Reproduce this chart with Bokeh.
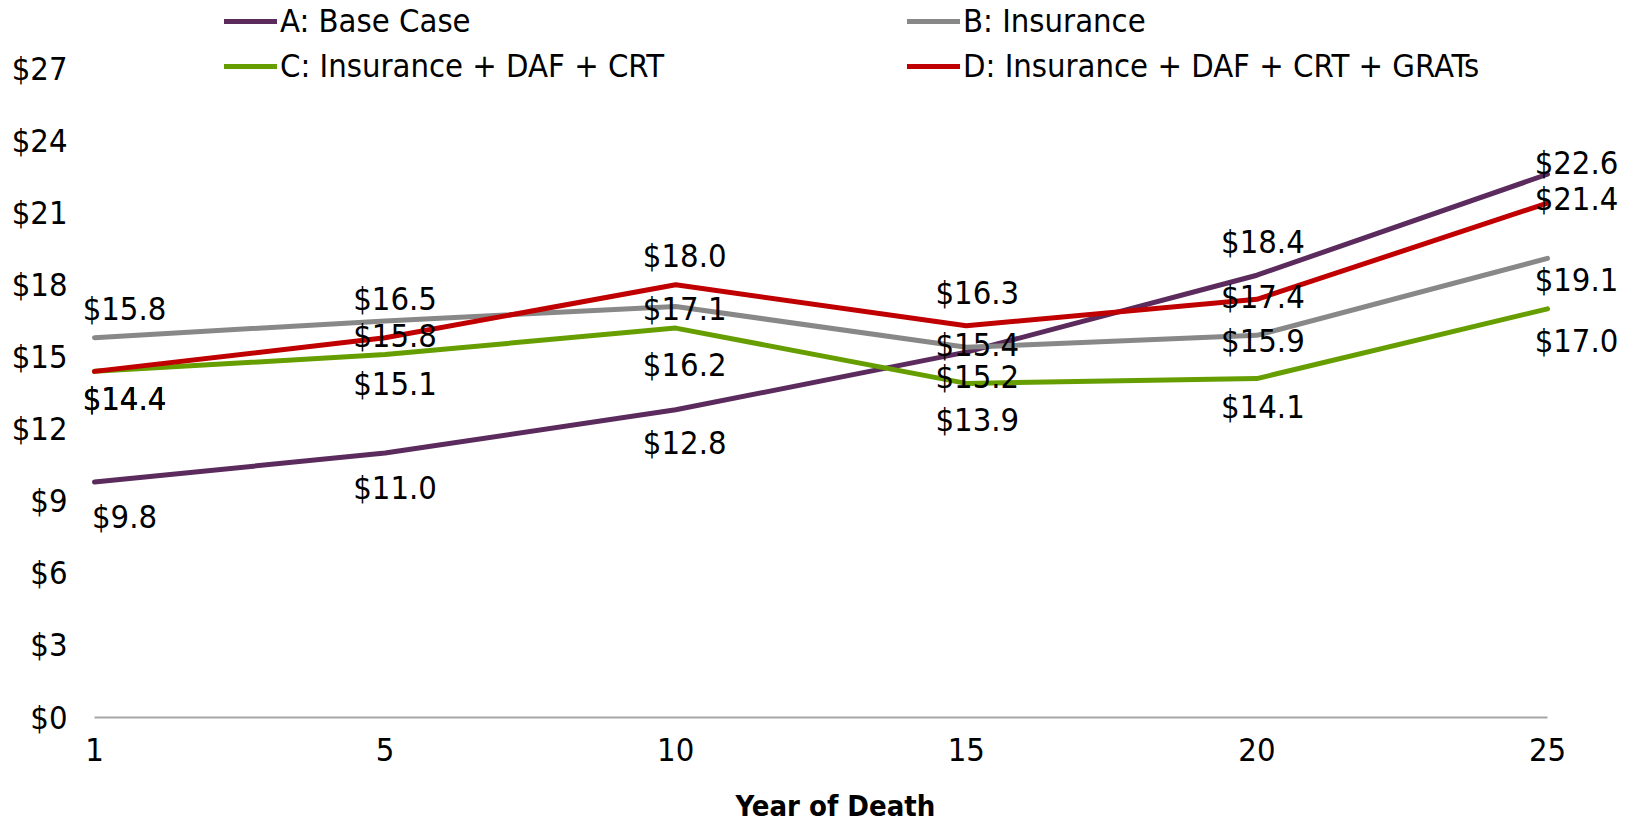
from bokeh.plotting import figure
from bokeh.models import (Range1d, FixedTicker, PrintfTickFormatter, Legend,
                          LegendItem, ColumnDataSource, Title)
from bokeh.embed import file_html
from bokeh.resources import INLINE
from bokeh.core.properties import value

# ---------------- data ----------------
years = ["1", "5", "10", "15", "20", "25"]
series_names = ["A: Base Case", "B: Insurance",
                "C: Insurance + DAF + CRT", "D: Insurance + DAF + CRT + GRATs"]
base_case = [9.8, 11.0, 12.8, 15.2, 18.4, 22.6]
insurance = [15.8, 16.5, 17.1, 15.4, 15.9, 19.1]
ins_daf_crt = [14.4, 15.1, 16.2, 13.9, 14.1, 17.0]
ins_daf_crt_grats = [14.4, 15.8, 18.0, 16.3, 17.4, 21.4]
y_ticks = [0, 3, 6, 9, 12, 15, 18, 21, 24, 27]
x_label = "Year of Death"

# ---------------- style / layout ----------------
colors = ["#5C2B5E", "#888888", "#669E00", "#C00000"]
FONT = "DejaVu Sans Condensed"
FS = "32.5px"
# label screen offsets (pixels; + is downward)
label_dy = [
    [35, 35, 33, 25, -33, -11],
    [-29, -22, 3, -2, 6, 22],
    [28, 29, 37, 37, 28, 32],
    [28, -2, -29, -33, -2, -4],
]
label_dx = [30, 10, 9, 11, 6, 29]

W, H = 1635, 822
left_px, right_px = 72, 1630          # frame edges
x0_px, x5_px = 94, 1547               # where first / last category sit
zero_px, top_tick_px = 717, 68        # y=0 and y=27 pixel rows
border_bottom = 103
title_left_px = 735

ppx = (x5_px - x0_px) / (len(years) - 1)
ppu = (zero_px - top_tick_px) / 27.0
x_start = -(x0_px - left_px) / ppx
x_end = (len(years) - 1) + (right_px - x5_px) / ppx
frame_bottom = H - border_bottom
y_start = -(frame_bottom - zero_px) / ppu
y_end = zero_px / ppu

all_series = [base_case, insurance, ins_daf_crt, ins_daf_crt_grats]
xs = list(range(len(years)))

p = figure(width=W, height=H, x_range=Range1d(x_start, x_end),
           y_range=Range1d(y_start, y_end), output_backend="svg",
           toolbar_location=None, min_border_left=left_px,
           min_border_right=W - right_px, min_border_top=0,
           min_border_bottom=border_bottom)
p.outline_line_color = None
p.xgrid.visible = False
p.ygrid.visible = False
p.background_fill_color = "white"
p.border_fill_color = "white"

# y axis
p.yaxis.ticker = FixedTicker(ticks=y_ticks)
p.yaxis.formatter = PrintfTickFormatter(format="$%d")
p.yaxis.axis_line_color = None
p.yaxis.major_tick_line_color = None
p.yaxis.minor_tick_line_color = None
p.yaxis.major_tick_out = 0
p.yaxis.major_tick_in = 0
p.yaxis.major_label_standoff = 5
p.yaxis.major_label_text_font = FONT
p.yaxis.major_label_text_font_size = FS
p.yaxis.major_label_text_color = "black"

# x axis
p.xaxis.ticker = FixedTicker(ticks=xs)
p.xaxis.major_label_overrides = {i: y for i, y in enumerate(years)}
p.xaxis.axis_line_color = None
p.xaxis.major_tick_line_color = None
p.xaxis.minor_tick_line_color = None
p.xaxis.major_tick_out = 0
p.xaxis.major_tick_in = 0
p.xaxis.major_label_standoff = 18
p.xaxis.major_label_text_font = FONT
p.xaxis.major_label_text_font_size = FS
p.xaxis.major_label_text_color = "black"

# spacer between tick labels and the axis title
p.add_layout(Title(text=" ", text_font_size="1px", standoff=20), "below")
# x axis title
p.add_layout(Title(text=x_label, align="left", offset=title_left_px - left_px,
                   standoff=0, vertical_align="bottom",
                   text_font=FONT, text_font_size="29px",
                   text_font_style="bold", text_color="black"), "below")

# category axis baseline, spanning first to last category
p.segment(x0=[xs[0]], y0=[0], x1=[xs[-1]], y1=[0], line_color="#A6A6A6",
          line_width=2)

renderers = []
for vals, c in zip(all_series, colors):
    r = p.line(xs, vals, line_color=c, line_width=5, line_join="round",
               line_cap="round")
    renderers.append(r)

lx, ly, lt, ldx, ldy = [], [], [], [], []
for si, vals in enumerate(all_series):
    for i, v in enumerate(vals):
        lx.append(xs[i])
        ly.append(v)
        lt.append("$%.1f" % v)
        ldx.append(label_dx[i])
        ldy.append(label_dy[si][i])
src = ColumnDataSource(dict(x=lx, y=ly, t=lt, dx=ldx, dy=ldy))
p.text(x="x", y="y", text="t", x_offset="dx", y_offset="dy", source=src,
       text_align="center", text_baseline="middle",
       text_font=value(FONT), text_font_size=FS, text_color="black")

legend_row2_bottom = 85  # px from top of page


def make_legend(idx, glyph_left_px):
    leg = Legend(items=[LegendItem(label=series_names[i], renderers=[renderers[i]])
                        for i in idx],
                 location=(glyph_left_px - left_px, frame_bottom - legend_row2_bottom),
                 orientation="vertical",
                 glyph_width=53, glyph_height=36, label_height=36,
                 label_standoff=3, spacing=7, padding=0, margin=0,
                 border_line_color=None, background_fill_alpha=0,
                 label_text_font=FONT, label_text_font_size=FS,
                 label_text_color="black")
    p.add_layout(leg, "center")


make_legend([0, 2], 224)
make_legend([1, 3], 907)

open("out.html", "w").write(file_html(p, INLINE))
